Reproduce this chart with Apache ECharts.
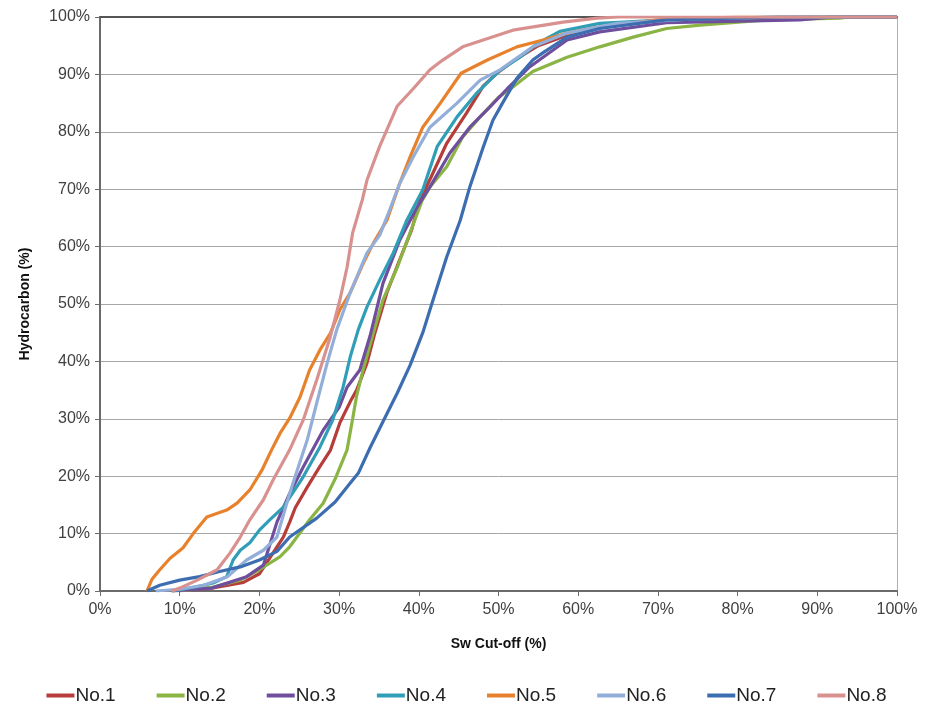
<!DOCTYPE html>
<html>
<head>
<meta charset="utf-8">
<script src="https://cdn.jsdelivr.net/npm/echarts@6/dist/echarts.min.js"></script>
<style>html,body{margin:0;padding:0;background:#fff}#c{width:933px;height:711px}</style>
</head>
<body>
<div id="c"></div>
<script>
const seriesNames = ['No.1','No.2','No.3','No.4','No.5','No.6','No.7','No.8'];
const colors = ['#B73D3B','#8AB443','#6F4E9E','#2F9EB6','#E8812C','#93AFD9','#3C6DB1','#D99190'];

const no1 = [[9,0],[14,0.5],[18,1.5],[20,3],[21.7,6.6],[23,9.4],[23.8,12],[24.5,14.5],[26,18.1],[27.5,21.5],[28.9,24.5],[30.1,29.3],[31.4,33],[32.2,35],[33.5,39.7],[34.5,45],[36,52],[37.6,57.7],[39.1,62.9],[40.1,68],[41.5,72],[43.5,78],[46,83.3],[48.1,88],[49.8,90.2],[52,92.5],[55,95],[60,97.5],[65,98.7],[70,99.3],[80,99.8],[90,100],[100,100]];
const no2 = [[10,0],[14.2,0.7],[17.6,1.9],[20,3.7],[22.6,6],[23.8,7.7],[26.3,12.4],[28,15.3],[29.5,19.5],[31,24.6],[31.7,30],[32.2,34],[33,38.5],[34.3,45],[35.5,50.7],[37.3,56.4],[38.9,62.4],[40.4,68],[41.4,70.4],[43.5,73.9],[45.5,79.1],[47.7,82.6],[50,86],[51.8,87.8],[54.3,90.5],[58.6,93],[62.7,94.8],[66.9,96.5],[71.1,98],[75.3,98.6],[83.7,99.5],[92.8,99.8],[94,100],[100,100]];
const no3 = [[9,0],[14,0.5],[18.4,2.5],[20.5,4.5],[22.2,12],[23.8,17],[25.5,21.6],[28,28],[30,32],[31,35.5],[32.6,38.5],[33.9,44.5],[35.5,53.6],[37.6,61.1],[39.8,66.9],[41.4,70.4],[43.9,76.3],[46.4,80.8],[48.9,84.3],[51.1,87.5],[53.9,91.3],[58.6,96],[62.7,97.4],[71.1,99],[87.8,99.5],[92,100],[100,100]];
const no4 = [[9,0],[12,0.7],[14.2,1.4],[15.9,2.5],[16.7,5.4],[17.6,7.1],[18.8,8.4],[20,10.6],[21.3,12.4],[23,14.6],[25.5,19.9],[27.6,25.1],[29.2,29.8],[30.5,35.5],[31.4,40.8],[32.4,45.5],[33.5,49.5],[35.1,54.2],[36.8,58.9],[38.5,64.6],[40.5,69.9],[42.3,77.4],[44.8,82.6],[47.3,86.8],[50,90.5],[52.7,93],[55,95.5],[57.7,97.5],[62.7,98.9],[71,99.5],[85,100],[100,100]];
const no5 = [[5.9,0],[6.5,2],[7.5,3.7],[8.8,5.7],[10.4,7.5],[11.7,10],[13.4,12.9],[15.9,14.1],[17.2,15.3],[18.8,17.6],[20.3,21],[21.5,24.5],[22.6,27.5],[23.8,30.1],[25.1,33.8],[26.3,38.5],[27.6,42],[28.9,44.9],[30.1,49],[31.4,52],[33,57],[34.3,60.6],[36,64.6],[37.6,71],[38.9,75.6],[40.5,80.8],[42.7,85],[45.3,90.2],[48.6,92.5],[52.3,94.8],[55.6,96],[58.6,97.2],[62.7,98.3],[70,99.5],[80,100],[100,100]];
const no6 = [[7,0],[10,0.3],[13,1],[16,2.5],[18.4,5.4],[20.5,7.1],[22.2,9.4],[23.8,17],[24.5,20],[26,26.3],[27.2,32.8],[28.5,39.7],[29.7,45.5],[31.4,52],[33.5,58.9],[35.1,62],[36.4,66.6],[37.6,71],[39.3,75.6],[41.4,80.8],[44.8,85],[47.7,89],[50.2,90.8],[54.3,94.8],[58.6,97.2],[64.9,98.9],[75,99.7],[85,100],[100,100]];
const no7 = [[5.9,0],[7.5,1],[10,1.9],[12.5,2.5],[15,3.4],[17.6,4.2],[20,5.4],[22.2,6.9],[23.8,9.4],[27.2,12.7],[29.5,15.5],[31.4,18.8],[32.4,20.5],[33.9,25],[35.5,29.5],[37.3,34.5],[38.9,39.3],[40.5,45],[41.4,49],[43.5,58.2],[45.2,64.6],[46.4,70.4],[48.1,77.4],[49.3,82],[50.5,85],[52.3,89.3],[54.3,92.5],[55.6,93.8],[58.6,96.5],[62.7,98],[71,99.5],[85,100],[100,100]];
const no8 = [[9,0],[10,0.5],[12.2,1.9],[14.7,3.7],[16.3,6.6],[17.6,9.4],[18.8,12.4],[20.5,15.9],[21.7,19.3],[23.8,24.6],[25.5,29.8],[27.2,36.8],[28.9,44.3],[30.1,50.7],[31,56.4],[31.7,62.4],[32.9,68.1],[33.5,71.6],[35.1,77.5],[37.3,84.5],[39.3,87.5],[41.4,90.8],[43,92.5],[45.5,94.8],[51.8,97.7],[58.1,99.1],[62.4,99.8],[65,100],[100,100]];
const allData = [no1,no2,no3,no4,no5,no6,no7,no8];

const xTicks = {min:0, max:100, interval:10};
const yTicks = {min:0, max:100, interval:10};

const chart = echarts.init(document.getElementById('c'), null, {renderer:'canvas'});
const labelFont = {fontFamily:'Liberation Sans, Arial, sans-serif', fontSize:16, color:'#404040'};
chart.setOption({
  animation:false,
  backgroundColor:'#fff',
  grid:{left:100, right:36, top:17, bottom:120, containLabel:false},
  legend:{
    bottom:1, left:'center',
    data:seriesNames,
    icon:'rect', itemWidth:28, itemHeight:4, itemGap:41,
    textStyle:{fontFamily:'Liberation Sans, Arial, sans-serif', fontSize:19, color:'#222', padding:[0,0,0,-4]}
  },
  xAxis:[{
    type:'value', min:xTicks.min, max:xTicks.max, interval:xTicks.interval,
    name:'Sw Cut-off (%)', nameLocation:'middle', nameGap:46,
    nameTextStyle:{fontFamily:'Liberation Sans, Arial, sans-serif', fontSize:14, fontWeight:'bold', color:'#111'},
    axisLine:{show:true, lineStyle:{color:'#6b6b6b', width:2}},
    axisTick:{show:true, inside:false, length:5, lineStyle:{color:'#6b6b6b'}},
    axisLabel:Object.assign({formatter:'{value}%', margin:11}, labelFont),
    splitLine:{show:false}
  },{
    type:'value', position:'top', min:0, max:100,
    axisLine:{show:true, onZero:false, lineStyle:{color:'#555', width:2}},
    axisTick:{show:false}, axisLabel:{show:false}, splitLine:{show:false}
  }],
  yAxis:[{
    type:'value', min:yTicks.min, max:yTicks.max, interval:yTicks.interval,
    name:'Hydrocarbon (%)', nameLocation:'middle', nameGap:68, nameRotate:90,
    nameTextStyle:{fontFamily:'Liberation Sans, Arial, sans-serif', fontSize:14, fontWeight:'bold', color:'#111'},
    axisLine:{show:true, lineStyle:{color:'#6b6b6b', width:2}},
    axisTick:{show:true, inside:false, length:5, lineStyle:{color:'#6b6b6b'}},
    axisLabel:Object.assign({formatter:'{value}%', margin:10}, labelFont),
    splitLine:{show:true, lineStyle:{color:'#a6a6a6', width:1}}
  },{
    type:'value', position:'right', min:0, max:100,
    axisLine:{show:true, onZero:false, lineStyle:{color:'#b0b0b0', width:1}},
    axisTick:{show:false}, axisLabel:{show:false}, splitLine:{show:false}
  }],
  series: seriesNames.map((n,i)=>({
    name:n, type:'line', xAxisIndex:0, yAxisIndex:0,
    data:allData[i], showSymbol:false, symbol:'none',
    lineStyle:{color:colors[i], width:3.2}, itemStyle:{color:colors[i]}
  }))
});
</script>
</body>
</html>
